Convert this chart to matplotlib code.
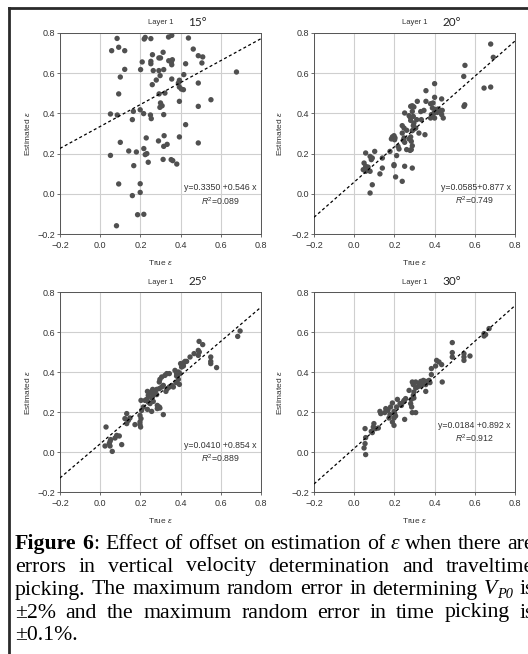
import matplotlib
matplotlib.use('Agg')
import matplotlib.pyplot as plt
from matplotlib.lines import Line2D

plt.rcParams['font.family'] = ['Liberation Sans', 'DejaVu Sans']
plt.rcParams['mathtext.fontset'] = 'custom'
plt.rcParams['mathtext.rm'] = 'Liberation Sans'
plt.rcParams['mathtext.it'] = 'Liberation Sans:italic'
plt.rcParams['axes.unicode_minus'] = True

# ---------------- data ----------------
angles = ['15°', '20°', '25°', '30°']
equations = ['y=0.3350 +0.546 x', 'y=0.0585+0.877 x', 'y=0.0410 +0.854 x', 'y=0.0184 +0.892 x']
r2_values = ['0.089', '0.749', '0.889', '0.912']
intercepts = [0.3350, 0.0585, 0.0410, 0.0184]
slopes = [0.546, 0.877, 0.854, 0.892]
ticks = [-0.2, 0.0, 0.2, 0.4, 0.6, 0.8]

x15 = [0.084, 0.092, 0.057, 0.122, 0.122, 0.100, 0.092, 0.051, 0.085, 0.100, 0.051, 0.092, 0.081,
       0.142, 0.180, 0.167, 0.160, 0.165, 0.160, 0.186, 0.199, 0.199, 0.217, 0.219, 0.224, 0.252,
       0.201, 0.209, 0.199, 0.216, 0.217, 0.224, 0.232, 0.229, 0.239, 0.252, 0.252, 0.260, 0.259,
       0.264, 0.279, 0.250, 0.254, 0.292, 0.300, 0.313, 0.292, 0.298, 0.293, 0.316, 0.300, 0.297,
       0.308, 0.316, 0.290, 0.318, 0.316, 0.333, 0.313, 0.322, 0.340, 0.356, 0.341, 0.354, 0.356,
       0.359, 0.356, 0.353, 0.361, 0.381, 0.394, 0.389, 0.394, 0.404, 0.414, 0.394, 0.394, 0.416,
       0.425, 0.425, 0.439, 0.463, 0.488, 0.510, 0.506, 0.488, 0.488, 0.488, 0.551, 0.678]
y15 = [0.773, 0.729, 0.712, 0.712, 0.619, 0.581, 0.497, 0.397, 0.392, 0.256, 0.191, 0.049, -0.159,
       0.213, 0.208, 0.140, -0.009, 0.410, 0.369, -0.104, 0.050, 0.007, -0.102, 0.770, 0.778, 0.772,
       0.618, 0.656, 0.418, 0.399, 0.225, 0.195, 0.200, 0.278, 0.157, 0.659, 0.647, 0.692, 0.543,
       0.613, 0.566, 0.392, 0.374, 0.676, 0.676, 0.704, 0.613, 0.588, 0.497, 0.618, 0.452, 0.430,
       0.438, 0.394, 0.263, 0.289, 0.236, 0.246, 0.171, 0.501, 0.780, 0.788, 0.662, 0.656, 0.642,
       0.667, 0.571, 0.170, 0.165, 0.148, 0.565, 0.551, 0.531, 0.521, 0.518, 0.460, 0.283, 0.593,
       0.344, 0.647, 0.775, 0.720, 0.687, 0.681, 0.651, 0.551, 0.435, 0.253, 0.468, 0.606]

x20 = [0.679, 0.692, 0.551, 0.545, 0.550, 0.546, 0.646, 0.679, 0.400, 0.357, 0.400, 0.435, 0.357,
       0.392, 0.380, 0.314, 0.281, 0.289, 0.297, 0.389, 0.402, 0.417, 0.427, 0.438, 0.414, 0.435,
       0.443, 0.397, 0.389, 0.380, 0.400, 0.384, 0.347, 0.331, 0.334, 0.251, 0.273, 0.278, 0.294,
       0.289, 0.311, 0.297, 0.294, 0.297, 0.289, 0.306, 0.281, 0.239, 0.248, 0.261, 0.239, 0.322,
       0.352, 0.281, 0.273, 0.284, 0.248, 0.244, 0.251, 0.289, 0.284, 0.261, 0.278, 0.198, 0.190,
       0.203, 0.185, 0.201, 0.218, 0.223, 0.211, 0.178, 0.198, 0.198, 0.251, 0.289, 0.206, 0.239,
       0.102, 0.057, 0.079, 0.090, 0.085, 0.049, 0.057, 0.045, 0.057, 0.069, 0.140, 0.140, 0.128,
       0.079, 0.090, 0.079]
y20 = [0.745, 0.679, 0.639, 0.584, 0.443, 0.435, 0.526, 0.531, 0.548, 0.513, 0.480, 0.472, 0.460,
       0.452, 0.448, 0.460, 0.435, 0.438, 0.432, 0.427, 0.419, 0.422, 0.415, 0.415, 0.405, 0.394,
       0.377, 0.402, 0.385, 0.377, 0.377, 0.394, 0.415, 0.409, 0.369, 0.402, 0.389, 0.382, 0.385,
       0.410, 0.369, 0.352, 0.339, 0.322, 0.314, 0.327, 0.365, 0.339, 0.327, 0.316, 0.302, 0.302,
       0.294, 0.283, 0.273, 0.261, 0.278, 0.266, 0.256, 0.239, 0.220, 0.220, 0.216, 0.289, 0.283,
       0.278, 0.273, 0.269, 0.236, 0.223, 0.190, 0.211, 0.145, 0.140, 0.137, 0.128, 0.084, 0.062,
       0.211, 0.203, 0.186, 0.178, 0.170, 0.153, 0.137, 0.120, 0.112, 0.133, 0.178, 0.128, 0.099,
       0.112, 0.045, 0.004]

x25 = [0.696, 0.684, 0.492, 0.510, 0.488, 0.467, 0.493, 0.488, 0.550, 0.550, 0.550, 0.579, 0.447,
       0.422, 0.417, 0.430, 0.414, 0.405, 0.400, 0.389, 0.397, 0.380, 0.372, 0.380, 0.389, 0.394,
       0.377, 0.344, 0.331, 0.322, 0.306, 0.297, 0.294, 0.356, 0.364, 0.344, 0.334, 0.327, 0.314,
       0.306, 0.294, 0.281, 0.273, 0.261, 0.256, 0.248, 0.239, 0.235, 0.223, 0.203, 0.231, 0.264,
       0.281, 0.256, 0.239, 0.248, 0.264, 0.284, 0.294, 0.284, 0.297, 0.215, 0.206, 0.235, 0.256,
       0.314, 0.198, 0.203, 0.198, 0.198, 0.201, 0.173, 0.132, 0.123, 0.148, 0.140, 0.132, 0.029,
       0.082, 0.095, 0.074, 0.052, 0.049, 0.045, 0.024, 0.049, 0.107, 0.060]
y25 = [0.605, 0.578, 0.553, 0.537, 0.508, 0.492, 0.500, 0.483, 0.475, 0.453, 0.442, 0.422, 0.475,
       0.453, 0.447, 0.453, 0.430, 0.425, 0.442, 0.400, 0.392, 0.392, 0.408, 0.380, 0.363, 0.338,
       0.347, 0.392, 0.392, 0.383, 0.375, 0.363, 0.350, 0.333, 0.325, 0.325, 0.317, 0.303, 0.333,
       0.325, 0.317, 0.313, 0.303, 0.313, 0.303, 0.297, 0.283, 0.303, 0.258, 0.258, 0.263, 0.283,
       0.287, 0.270, 0.250, 0.242, 0.253, 0.233, 0.225, 0.217, 0.220, 0.225, 0.208, 0.213, 0.203,
       0.187, 0.183, 0.167, 0.150, 0.137, 0.125, 0.137, 0.192, 0.167, 0.170, 0.158, 0.142, 0.125,
       0.083, 0.080, 0.070, 0.062, 0.053, 0.042, 0.030, 0.030, 0.037, 0.003]

x30 = [0.646, 0.646, 0.654, 0.671, 0.488, 0.488, 0.488, 0.546, 0.546, 0.546, 0.576, 0.410, 0.422,
       0.435, 0.405, 0.384, 0.438, 0.384, 0.372, 0.377, 0.356, 0.356, 0.344, 0.347, 0.339, 0.331,
       0.322, 0.327, 0.306, 0.289, 0.294, 0.314, 0.306, 0.356, 0.297, 0.294, 0.297, 0.284, 0.281,
       0.286, 0.289, 0.306, 0.256, 0.248, 0.244, 0.235, 0.228, 0.215, 0.190, 0.211, 0.181, 0.168,
       0.198, 0.201, 0.206, 0.198, 0.178, 0.190, 0.198, 0.157, 0.152, 0.128, 0.132, 0.173, 0.251,
       0.098, 0.095, 0.107, 0.120, 0.085, 0.090, 0.054, 0.057, 0.054, 0.049, 0.057, 0.273]
y30 = [0.592, 0.580, 0.587, 0.617, 0.547, 0.497, 0.475, 0.492, 0.475, 0.458, 0.480, 0.458, 0.450,
       0.437, 0.430, 0.417, 0.350, 0.387, 0.358, 0.347, 0.353, 0.337, 0.358, 0.347, 0.337, 0.353,
       0.342, 0.330, 0.350, 0.350, 0.337, 0.325, 0.320, 0.303, 0.300, 0.283, 0.270, 0.263, 0.242,
       0.225, 0.197, 0.197, 0.267, 0.258, 0.250, 0.233, 0.242, 0.263, 0.245, 0.225, 0.225, 0.208,
       0.203, 0.192, 0.180, 0.170, 0.187, 0.150, 0.133, 0.217, 0.197, 0.203, 0.192, 0.170, 0.163,
       0.142, 0.125, 0.117, 0.120, 0.103, 0.097, 0.117, 0.072, 0.042, 0.020, -0.013, 0.308]

xs = [x15, x20, x25, x30]
ys = [y15, y20, y25, y30]

caption_lines = [
    [[('Figure', 'b')], [('6', 'b'), (':', 'n')], [('Effect', 'n')], [('of', 'n')], [('offset', 'n')],
     [('on', 'n')], [('estimation', 'n')], [('of', 'n')], [('ε', 'i')], [('when', 'n')],
     [('there', 'n')], [('are', 'n')]],
    [[('errors', 'n')], [('in', 'n')], [('vertical', 'n')], [('velocity', 'n')],
     [('determination', 'n')], [('and', 'n')], [('traveltime', 'n')]],
    [[('picking.', 'n')], [('The', 'n')], [('maximum', 'n')], [('random', 'n')], [('error', 'n')],
     [('in', 'n')], [('determining', 'n')], [('V', 'i'), ('P0', 'sub')], [('is', 'n')]],
    [[('±2%', 'n')], [('and', 'n')], [('the', 'n')], [('maximum', 'n')], [('random', 'n')],
     [('error', 'n')], [('in', 'n')], [('time', 'n')], [('picking', 'n')], [('is', 'n')]],
    [[('±0.1%.', 'n')]],
]

# ---------------- figure ----------------
W, H = 528, 654
fig = plt.figure(figsize=(W / 100, H / 100), dpi=100)
fig.patch.set_facecolor('white')


def px_rect(l, t, r, b):
    return [l / W, 1 - b / H, (r - l) / W, (b - t) / H]


rects = [px_rect(60, 33, 261, 234), px_rect(314, 33, 515, 234),
         px_rect(60, 292, 261, 492), px_rect(314, 292, 515, 492)]
eq_y = [0.23, 0.232, 0.23, 0.333]
r2_y = [0.164, 0.166, 0.167, 0.267]
ylab_x = [-0.14, -0.148, -0.14, -0.148]

for i in range(4):
    ax = fig.add_axes(rects[i])
    ax.set_xlim(-0.2, 0.8)
    ax.set_ylim(-0.2, 0.8)
    ax.set_xticks(ticks)
    ax.set_yticks(ticks)
    ax.set_xticklabels([f'{t:.1f}'.replace('-', '\u2212') for t in ticks])
    ax.set_yticklabels([f'{t:.1f}'.replace('-', '\u2212') for t in ticks])
    ax.grid(True, color='#cfcfcf', lw=0.8, zorder=0)
    ax.set_axisbelow(True)
    for s in ax.spines.values():
        s.set_color('#555555')
        s.set_linewidth(0.7)
    ax.tick_params(axis='both', direction='out', length=2, width=0.6, color='#555555',
                   labelsize=6.5, labelcolor='#333333')
    ax.tick_params(axis='x', pad=3)
    ax.tick_params(axis='y', pad=1.5)
    ax.scatter(xs[i], ys[i], s=15, color='#505050', edgecolors='none', zorder=3)
    lx = [-0.2, 0.8]
    ax.plot(lx, [intercepts[i] + slopes[i] * v for v in lx], color='black', lw=0.9,
            dashes=(2.4, 2.0), zorder=4)
    ax.set_xlabel(r'True $\varepsilon$', fontsize=6, color='#333333')
    ax.xaxis.set_label_coords(0.5, -0.12)
    ax.set_ylabel(r'Estimated $\varepsilon$', fontsize=6, color='#333333')
    ax.yaxis.set_label_coords(ylab_x[i], 0.5)
    ax.text(0.5, 1.05, 'Layer 1', transform=ax.transAxes, ha='center', va='center',
            fontsize=5.5, color='#333333')
    ax.text(0.684, 1.053, angles[i], transform=ax.transAxes, ha='center', va='center',
            fontsize=8.5, color='#222222', family='Lato')
    ax.text(0.978, eq_y[i], equations[i], transform=ax.transAxes, ha='right', va='center',
            fontsize=6.3, color='#333333')
    ax.text(0.80, r2_y[i], r'$R^2$=' + r2_values[i], transform=ax.transAxes, ha='center',
            va='center', fontsize=6.3, color='#333333')

# frame border (top and left visible)
fig.add_artist(Line2D([8.7 / W, 1.2], [1 - 7.7 / H, 1 - 7.7 / H], transform=fig.transFigure,
                      color='#2a2a2a', lw=2.0))
fig.add_artist(Line2D([8.7 / W, 8.7 / W], [1 - 7.7 / H, -0.2], transform=fig.transFigure,
                      color='#2a2a2a', lw=2.0))

# caption with justified lines
renderer = fig.canvas.get_renderer()
FS = 15.7
L_PX, R_PX = 15, 534
baselines = [549, 571.5, 594.5, 617.5, 640.5]


def style_kw(st):
    kw = dict(fontsize=FS, family='Liberation Serif', color='black', va='baseline', ha='left')
    if st == 'b':
        kw['fontweight'] = 'bold'
    elif st == 'i':
        kw['fontstyle'] = 'italic'
    elif st == 'sub':
        kw['fontstyle'] = 'italic'
        kw['fontsize'] = FS * 0.66
    return kw


for li, words in enumerate(caption_lines):
    base = baselines[li]
    arts, widths = [], []
    for word in words:
        pieces, wsum = [], 0.0
        for txt, st in word:
            dy = 4 if st == 'sub' else 0
            t = fig.text(0, 1 - (base + dy) / H, txt, **style_kw(st))
            w = t.get_window_extent(renderer).width
            pieces.append((t, w))
            wsum += w
        arts.append(pieces)
        widths.append(wsum)
    n = len(words)
    gap = (R_PX - L_PX - sum(widths)) / (n - 1) if (n > 1 and li < len(caption_lines) - 1) else 5
    x = L_PX
    for pieces, w in zip(arts, widths):
        xx = x
        for t, pw in pieces:
            t.set_x(xx / W)
            xx += pw
        x += w + gap

fig.savefig('out.png', dpi=100, facecolor='white')
